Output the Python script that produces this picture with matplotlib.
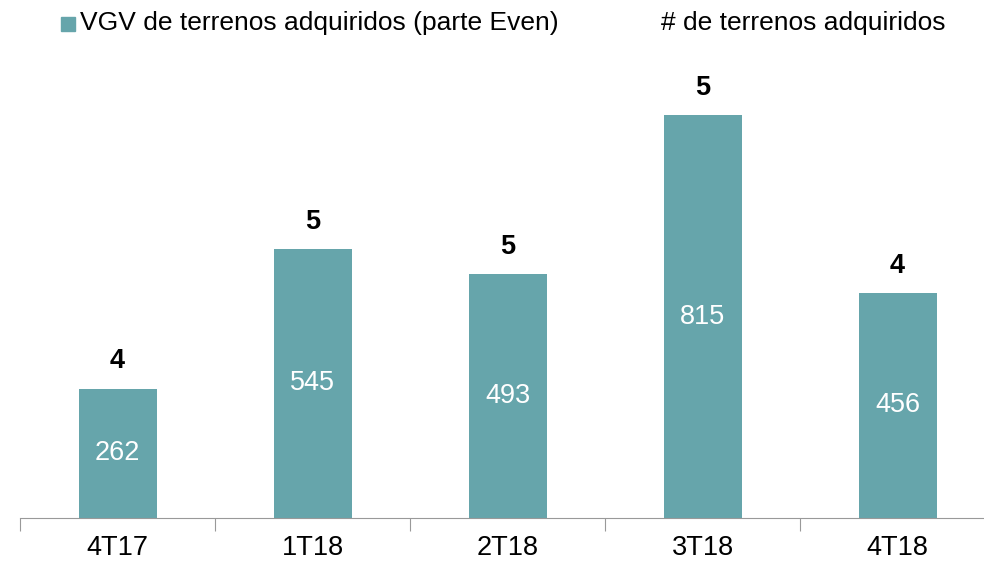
import matplotlib.pyplot as plt
from matplotlib.patches import Rectangle
from matplotlib.transforms import offset_copy

plt.rcParams['font.family'] = ['Liberation Sans', 'DejaVu Sans']

quarters = ['4T17', '1T18', '2T18', '3T18', '4T18']
vgv = [262, 545, 493, 815, 456]
n_terrenos = [4, 5, 5, 5, 4]

teal = '#66a5ab'

fig = plt.figure(figsize=(9.84, 5.63), dpi=100)
# axis runs past the right edge in the original
ax = fig.add_axes([20 / 984, 45 / 563, 975 / 984, 473 / 563])

x = range(len(quarters))
bars = ax.bar(x, vgv, width=0.4, color=teal)
ax.set_xlim(-0.5, 4.5)
ax.set_ylim(0, 473 / 0.494)

for b, v, n in zip(bars, vgv, n_terrenos):
    cx = b.get_x() + b.get_width() / 2
    ax.text(cx, v / 2, str(v), ha='center', va='center', color='white', fontsize=19.5)
    ax.text(cx, v + 55, str(n), ha='center', va='center', color='black',
            fontsize=19.5, fontweight='bold')

for s in ['top', 'right', 'left']:
    ax.spines[s].set_visible(False)
ax.spines['bottom'].set_color('#999999')
ax.set_yticks([])
ax.set_xticks([-0.5, 0.5, 1.5, 2.5, 3.5, 4.5])
ax.set_xticklabels([])
ax.tick_params(axis='x', length=9, color='#999999')
lbl_tr = offset_copy(ax.get_xaxis_transform(), fig=fig, x=0, y=-30, units='dots')
for i, q in zip(x, quarters):
    ax.text(i, 0, q, ha='center', va='center', fontsize=19.5, transform=lbl_tr)

# legend
fig.patches.append(Rectangle((61 / 984, 1 - 31 / 563), 14 / 984, 14 / 563,
                             transform=fig.transFigure, color=teal))
fig.text(80 / 984, 1 - 23 / 563, 'VGV de terrenos adquiridos (parte Even)',
         ha='left', va='center', fontsize=19)
fig.text(661 / 984, 1 - 23 / 563, '# de terrenos adquiridos',
         ha='left', va='center', fontsize=19)

fig.savefig('out.png', dpi=100)
